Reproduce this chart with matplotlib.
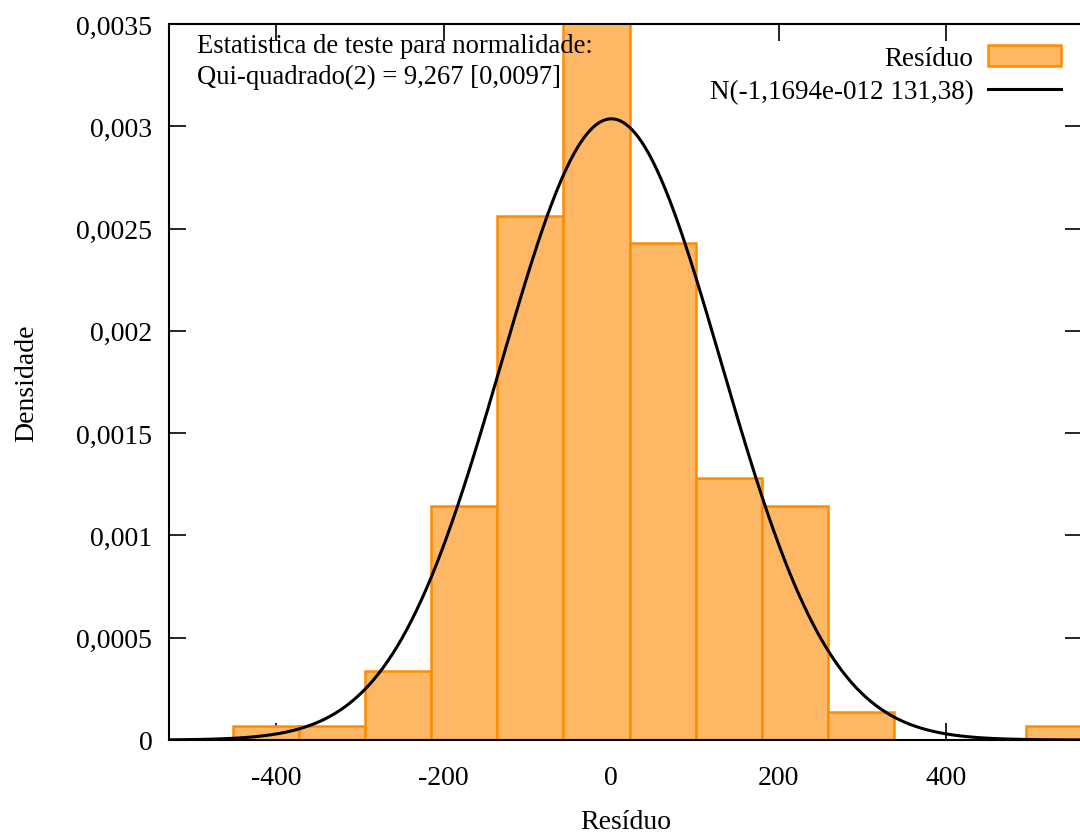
import numpy as np
import matplotlib
matplotlib.use('Agg')
from matplotlib import pyplot as plt
from matplotlib.patches import Patch
from matplotlib.lines import Line2D
from matplotlib.ticker import FuncFormatter

# histogram of residuals (density), bins of equal width
bin_start = -451.7
bin_width = 78.9
density = [0.0000684, 0.0000684, 0.000337, 0.001144, 0.002561, 0.00365,
           0.002429, 0.00128, 0.001144, 0.000137, 0.0, 0.0, 0.0000684]

# fitted normal
mu = -1.1694e-12
sigma = 131.38

plt.rcParams['font.family'] = ['Liberation Serif', 'DejaVu Serif']
plt.rcParams['font.size'] = 20
plt.rcParams['axes.unicode_minus'] = False

fig = plt.figure(figsize=(10.8, 8.37), dpi=100)
ax = fig.add_axes([0.1565, 0.1147, 0.8455, 0.8554])

lefts = bin_start + bin_width * np.arange(len(density))
ax.bar(lefts, density, width=bin_width, align='edge', color='#fdb765',
       edgecolor='#ff8c00', linewidth=1.8, zorder=2)

xs = np.linspace(-560, 580, 600)
pdf = np.exp(-0.5 * ((xs - mu) / sigma) ** 2) / (sigma * np.sqrt(2 * np.pi))
ax.plot(xs, pdf, color='black', linewidth=2.2, zorder=3)

ax.set_xlim(-528, 562)
ax.set_ylim(0, 0.0035)
ax.set_xticks([-400, -200, 0, 200, 400])
ax.set_yticks(np.arange(0, 0.0036, 0.0005))
ax.yaxis.set_major_formatter(FuncFormatter(
    lambda v, p: '0' if v == 0 else ('%g' % round(v, 5)).replace('.', ',')))
ax.tick_params(direction='in', length=12, width=1.2, top=True, right=True,
               labelsize=20)
ax.tick_params(axis='x', pad=18)
ax.tick_params(axis='y', pad=12)
for s in ax.spines.values():
    s.set_linewidth(1.5)

ax.set_xlabel('Resíduo', labelpad=14)
ax.set_ylabel('Densidade', labelpad=27)

ax.text(0.031, 0.988, 'Estatistica de teste para normalidade:\nQui-quadrado(2) = 9,267 [0,0097]',
        transform=ax.transAxes, ha='left', va='top', fontsize=19.2,
        linespacing=1.3, zorder=5)

handles = [Patch(facecolor='#fdb765', edgecolor='#ff8c00', linewidth=1.8),
           Line2D([], [], color='black', linewidth=2.2)]
labels = ['Resíduo', 'N(-1,1694e-012 131,38)']
ax.legend(handles, labels, loc='upper right', bbox_to_anchor=(0.989, 0.986),
          frameon=False, markerfirst=False, fontsize=19.5, handlelength=2.7,
          handleheight=0.8, labelspacing=0.3, borderaxespad=0, handletextpad=0.55)

fig.savefig('out.png', dpi=100)
